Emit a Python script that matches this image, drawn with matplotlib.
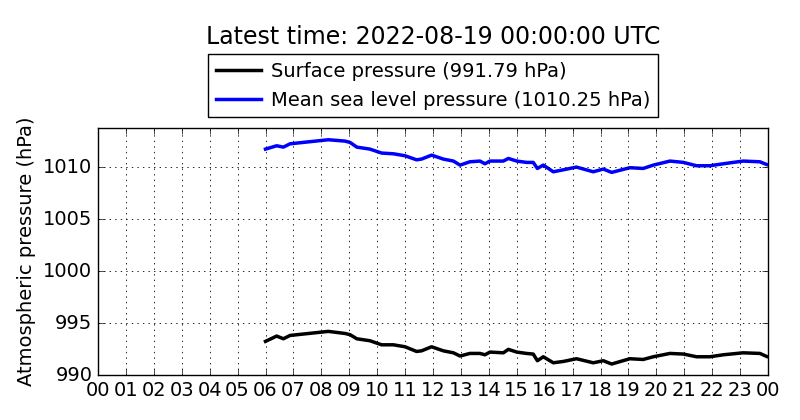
import matplotlib
matplotlib.use("Agg")
import matplotlib.pyplot as plt

# ── Data (hours since 2022-08-18 00:00 UTC) ─────────────────────────────────

hours = [6.0, 6.4, 6.64, 6.88, 8.25, 8.85, 9.03, 9.27, 9.74, 10.16, 10.58,
         11.0, 11.41, 11.59, 11.95, 12.37, 12.73, 12.97, 13.32, 13.68, 13.86,
         14.04, 14.52, 14.7, 15.0, 15.35, 15.59, 15.74, 15.95, 16.31, 16.67,
         17.14, 17.74, 18.1, 18.4, 19.05, 19.53, 19.89, 20.49, 20.97, 21.44,
         21.92, 22.4, 23.11, 23.71, 23.95]

mslp = [1011.73, 1012.05, 1011.92, 1012.24, 1012.63, 1012.5, 1012.37, 1011.92,
        1011.73, 1011.35, 1011.28, 1011.09, 1010.7, 1010.77, 1011.15, 1010.77,
        1010.58, 1010.19, 1010.51, 1010.58, 1010.32, 1010.58, 1010.58, 1010.83,
        1010.58, 1010.45, 1010.45, 1009.87, 1010.19, 1009.55, 1009.74, 1010.0,
        1009.55, 1009.81, 1009.49, 1009.94, 1009.87, 1010.19, 1010.58, 1010.45,
        1010.13, 1010.13, 1010.32, 1010.58, 1010.51, 1010.25]

surface = [993.24, 993.75, 993.49, 993.81, 994.2, 994.0, 993.88, 993.49,
           993.3, 992.91, 992.91, 992.72, 992.27, 992.33, 992.72, 992.33,
           992.14, 991.83, 992.08, 992.08, 991.95, 992.21, 992.14, 992.47,
           992.21, 992.08, 992.02, 991.38, 991.76, 991.18, 991.31, 991.57,
           991.18, 991.38, 991.06, 991.57, 991.5, 991.76, 992.08, 992.02,
           991.76, 991.76, 991.95, 992.14, 992.08, 991.79]

tick_hours = list(range(25))
tick_labels = [f"{h % 24:02d}" for h in tick_hours]

# ── Plot ─────────────────────────────────────────────────────────────────────

plt.style.use("classic")
plt.rcParams["font.family"] = "DejaVu Sans"

fig = plt.figure(figsize=(8, 4.2), dpi=100, facecolor="white")
ax = fig.add_axes([0.1225, 0.107, 0.8375, 0.588])

ax.plot(hours, surface, color="black", linewidth=2.5,
        label=f"Surface pressure ({surface[-1]:.2f} hPa)")
ax.plot(hours, mslp, color="blue", linewidth=2.5,
        label=f"Mean sea level pressure ({mslp[-1]:.2f} hPa)")

ax.set_xlim(0, 24)
ax.set_ylim(990, 1013.75)
ax.set_xticks(tick_hours)
ax.set_xticklabels(tick_labels)
ax.set_yticks([990, 995, 1000, 1005, 1010])
ax.ticklabel_format(axis="y", useOffset=False)
ax.tick_params(labelsize=14)
ax.set_ylabel("Atmospheric pressure (hPa)", fontsize=14, labelpad=5)
ax.grid(True, color="black", linestyle=":", linewidth=0.6)

ax.legend(loc="lower center", bbox_to_anchor=(0.5, 1.043), fontsize=14,
          handlelength=2.3, handletextpad=0.5, borderaxespad=0, numpoints=1,
          borderpad=0.4, labelspacing=0.5)
fig.text(0.5415, 0.913, "Latest time: 2022-08-19 00:00:00 UTC",
         ha="center", va="center", fontsize=17)

fig.savefig("out.png", dpi=100, facecolor="white")
